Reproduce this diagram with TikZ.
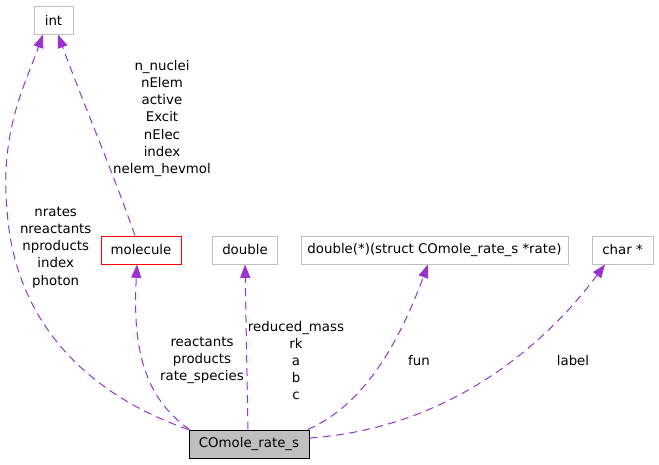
\documentclass[tikz,border=0pt]{standalone}
\usepackage{fontspec}
\setmainfont{DejaVu Sans}
\usetikzlibrary{arrows.meta}
\definecolor{edgec}{HTML}{9A32CD}
\definecolor{boxgray}{HTML}{BFBFBF}
\begin{document}
\begin{tikzpicture}[x=0.75pt,y=-0.75pt,
  every node/.style={font=\fontsize{10}{12.9}\selectfont, inner sep=0pt},
  box/.style={draw=boxgray, line width=0.75pt, minimum height={28*0.75pt}},
  redbox/.style={draw=red, line width=0.75pt, minimum height={28*0.75pt}},
  mainbox/.style={draw=black, fill=boxgray, line width=0.75pt, minimum height={28*0.75pt}},
  edge/.style={draw=edgec, line width=0.75pt, dash pattern=on 6pt off 4pt, -{Triangle[length=10pt,width=7.5pt]}, edgec},
  lbl/.style={align=center}]
\useasboundingbox (0,0) rectangle (659,464);
\node[box, minimum width={39*0.75pt}] (int) at (53.5,20) {int};
\node[redbox, minimum width={80*0.75pt}] (molecule) at (141,250) {molecule};
\node[box, minimum width={65*0.75pt}] (double) at (245,250) {double};
\node[box, minimum width={267*0.75pt}] (fptr) at (434.5,250) {double(*)(struct COmole\_rate\_s *rate)};
\node[box, minimum width={61*0.75pt}] (char) at (622.5,250) {char *};
\node[mainbox, minimum width={120*0.75pt}] (main) at (249,444) {COmole\_rate\_s};

\draw[edge] (main.north west) .. controls (97,398) and (15,330) .. (7,210) .. controls (0,130) and (25,85) .. ([xshift=-7.9pt]int.south);
\draw[edge] ([xshift=-4.5pt]molecule.north) .. controls (112,170) and (82,100) .. ([xshift=3.4pt]int.south);
\draw[edge] ([xshift=0.75pt]main.north west) .. controls (140,395) and (133,340) .. ([xshift=-3pt]molecule.south);
\draw[edge] ([xshift=-0.75pt]main.north) -- (double.south);
\draw[edge] ([xshift=-1.5pt]main.north east) .. controls (365,405) and (400,340) .. ([xshift=-4.9pt]fptr.south);
\draw[edge] ([yshift=4.5pt]main.east) .. controls (450,428) and (545,345) .. ([xshift=-13.1pt]char.south);

\node[lbl] (l1) at (55.7,247.5) {nrates\\nreactants\\nproducts\\index\\photon};
\node[lbl] (l2) at (162,118.5) {n\_nuclei\\nElem\\active\\Excit\\nElec\\index\\nelem\_hevmol};
\node[lbl] (l3) at (202,360.5) {reactants\\products\\rate\_species};
\node[lbl] (l4) at (296,360.5) {reduced\_mass\\rk\\a\\b\\c};
\node[lbl] (l5) at (419,361) {fun};
\node[lbl] (l6) at (573,361) {label};
\end{tikzpicture}
\end{document}
